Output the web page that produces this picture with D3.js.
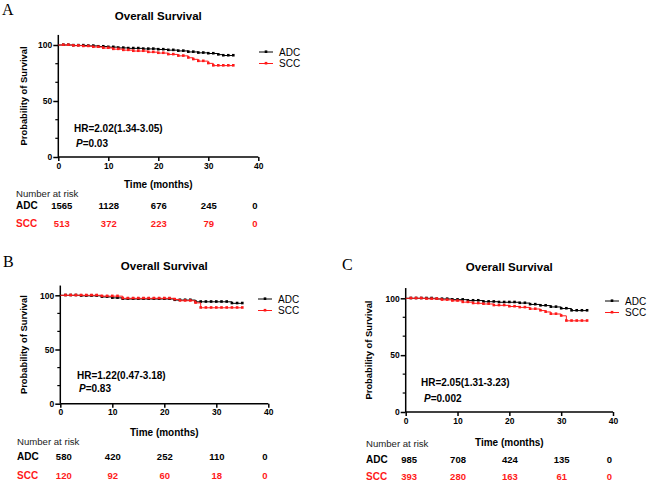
<!DOCTYPE html>
<html>
<head>
<meta charset="utf-8">
<script src="https://cdn.jsdelivr.net/npm/d3@7"></script>
<style>
  body { margin: 0; background: #fff; }
  svg { display: block; }
  text { font-family: Arial, "Liberation Sans", sans-serif; }
</style>
</head>
<body>
<svg id="canvas" width="648" height="480"></svg>
<script>
// ---- data ----
var groups = ["ADC", "SCC"];
var xTicks = [0, 10, 20, 30, 40];
var yTicks = [0, 50, 100];
var yMinorTicks = [16.7, 33.3, 66.7, 83.3];
var riskTimes = [0, 10, 20, 30, 40];
var censorTimes = [1, 2, 3, 4, 5, 6, 7, 8, 9, 10, 11, 12, 13, 14, 15, 16, 17, 18,
  19, 20, 21, 22, 23, 24, 25, 26, 27, 28, 29, 30, 31, 32, 33, 34, 35];

// step curves: [months, % survival]
var adcA = [[0, 100], [3, 99.6], [6, 99.2], [8, 98.6], [10, 98.1], [12, 97.4], [14, 97], [17, 96.5],
  [20, 96], [22, 95.4], [24, 94.7], [26, 93.8], [28, 93], [30, 92.4], [32, 91.4], [33, 90.6], [35, 90.6]];
var sccA = [[0, 100], [3, 99.4], [5, 98.9], [7, 98.2], [9, 97.3], [11, 96.3], [13, 95.4], [15, 94.6],
  [18, 93.6], [20, 92.8], [22, 91.6], [24, 90.3], [26, 88.6], [27, 87.2], [28, 85.6], [30, 83.6], [31, 81.6], [35, 81.6]];
var adcB = [[0, 100], [4, 99.5], [8, 98.5], [10, 97.6], [12, 96.6], [22, 95.6], [26, 94], [33, 92.6], [35, 92.6]];
var sccB = [[0, 100], [8, 99.2], [12, 97.2], [22, 96.2], [23, 95], [26, 93], [27, 88.5], [35, 88.5]];
var adcC = [[0, 100], [6, 99.4], [9, 98.8], [12, 98], [15, 97], [18, 96.5], [22, 95.8], [24, 94.6],
  [26, 93.6], [28, 92.4], [30, 91], [32, 89.2], [35, 89.2]];
var sccC = [[0, 100], [4, 99.5], [7, 98.6], [9, 97.8], [11, 96.6], [13, 95.6], [15, 95], [17, 93.8],
  [20, 92.8], [22, 92], [24, 90.6], [26, 89.2], [27, 88], [28, 86.2], [30, 84.6], [31, 80.2], [35, 80.2]];

// number at risk
var riskAdcA = [1565, 1128, 676, 245, 0];
var riskSccA = [513, 372, 223, 79, 0];
var riskAdcB = [580, 420, 252, 110, 0];
var riskSccB = [120, 92, 60, 18, 0];
var riskAdcC = [985, 708, 424, 135, 0];
var riskSccC = [393, 280, 163, 61, 0];

var hrTexts = ["HR=2.02(1.34-3.05)", "HR=1.22(0.47-3.18)", "HR=2.05(1.31-3.23)"];
var pTexts = ["=0.03", "=0.83", "=0.002"];
var panelLetters = ["A", "B", "C"];

var colorAdc = "#000000";
var colorScc = "#ff1a1a";

// ---- layout (pixel placement of each panel) ----
var layout = [
  { x0: 58.3, x40: 258.3, y0: 157, y100: 45, letterX: 2, letterY: 14.5, titleY: 19.5, ylabX: 24,
    hrX: 74, hrY: 132, pX: 76, pY: 147, legX: 259, legY: 52, timeY: 31, narY: 40, adcY: 52, sccY: 70, rowX: 16 },
  { x0: 60.3, x40: 268.3, y0: 403.7, y100: 295.3, letterX: 3, letterY: 267, titleY: 270, ylabX: 24,
    hrX: 77, hrY: 379, pX: 79, pY: 392, legX: 258, legY: 299, timeY: 32, narY: 41, adcY: 56, sccY: 75, rowX: 17 },
  { x0: 405.7, x40: 613, y0: 412, y100: 298.3, letterX: 342, letterY: 269.5, titleY: 271, ylabX: 369,
    hrX: 421, hrY: 386, pX: 424, pY: 402, legX: 605, legY: 301, timeY: 33.5, narY: 35, adcY: 51, sccY: 67.5, rowX: 366 }
];

var curves = [[adcA, sccA], [adcB, sccB], [adcC, sccC]];
var risks = [[riskAdcA, riskSccA], [riskAdcB, riskSccB], [riskAdcC, riskSccC]];
var colors = [colorAdc, colorScc];

var svg = d3.select("svg#canvas");

function survAt(data, t) {
  var i = d3.bisector(function (d) { return d[0]; }).right(data, t) - 1;
  return data[Math.max(0, i)][1];
}

layout.forEach(function (L, p) {
  var x = d3.scaleLinear().domain([0, 40]).range([L.x0, L.x40]);
  var y = d3.scaleLinear().domain([0, 100]).range([L.y0, L.y100]);
  var g = svg.append("g");

  // panel letter
  g.append("text").attr("x", L.letterX).attr("y", L.letterY)
    .style("font-family", "'Liberation Serif', 'Times New Roman', serif")
    .style("font-size", "16px").text(panelLetters[p]);

  // title
  g.append("text").attr("x", (L.x0 + L.x40) / 2).attr("y", L.titleY)
    .attr("text-anchor", "middle").style("font-size", "11.5px").style("font-weight", "bold")
    .text("Overall Survival");

  // axes
  var xAxis = d3.axisBottom(x).tickValues(xTicks).tickSize(4).tickPadding(1.5);
  var gx = g.append("g").attr("transform", "translate(0," + L.y0 + ")").call(xAxis);
  gx.select(".domain").attr("d", "M" + L.x0 + ",0H" + L.x40);

  var yAxis = d3.axisLeft(y).tickValues(yTicks).tickSize(5).tickPadding(1);
  var gy = g.append("g").attr("transform", "translate(" + L.x0 + ",0)").call(yAxis);
  gy.select(".domain").attr("d", "M0," + y(109) + "V" + L.y0);
  gy.selectAll(".minor").data(yMinorTicks).enter().append("line")
    .attr("class", "minor").attr("x1", -3).attr("x2", 0)
    .attr("y1", function (d) { return y(d); }).attr("y2", function (d) { return y(d); })
    .attr("stroke", "#000").attr("stroke-width", 1.2);

  [gx, gy].forEach(function (a) {
    a.selectAll(".domain, .tick line").attr("stroke", "#000").attr("stroke-width", 1.5);
    a.selectAll(".tick text").attr("fill", "#000").style("font-size", "8.5px")
      .style("font-weight", "bold").style("font-family", "Arial, 'Liberation Sans', sans-serif");
  });

  // axis titles
  g.append("text").attr("transform", "translate(" + L.ylabX + "," + (y(109) + L.y0) / 2 + ") rotate(-90)")
    .attr("text-anchor", "middle").attr("dy", "0.35em")
    .style("font-size", "9.4px").style("font-weight", "bold").text("Probability of Survival");
  g.append("text").attr("x", (L.x0 + L.x40) / 2).attr("y", L.y0 + L.timeY)
    .attr("text-anchor", "middle").style("font-size", "10px").style("font-weight", "bold")
    .text("Time (months)");

  // KM curves
  var line = d3.line().curve(d3.curveStepAfter)
    .x(function (d) { return x(d[0]); }).y(function (d) { return y(d[1]); });
  curves[p].forEach(function (data, k) {
    g.append("path").datum(data).attr("d", line).attr("fill", "none")
      .attr("stroke", colors[k]).attr("stroke-width", 1);
    g.selectAll(".cens" + k).data(censorTimes).enter().append("rect")
      .attr("class", "cens" + k)
      .attr("x", function (t) { return x(t) - 1.3; })
      .attr("y", function (t) { return y(survAt(data, t)) - 1.6; })
      .attr("width", 2.6).attr("height", 2.6).attr("fill", colors[k]);
  });

  // HR / P annotations
  g.append("text").attr("x", L.hrX).attr("y", L.hrY).style("font-size", "10px")
    .style("font-weight", "bold").text(hrTexts[p]);
  var pt = g.append("text").attr("x", L.pX).attr("y", L.pY).style("font-size", "10px").style("font-weight", "bold");
  pt.append("tspan").style("font-style", "italic").text("P");
  pt.append("tspan").text(pTexts[p]);

  // legend
  groups.forEach(function (name, k) {
    var ly = L.legY + k * 11.5;
    g.append("line").attr("x1", L.legX).attr("x2", L.legX + 14).attr("y1", ly).attr("y2", ly)
      .attr("stroke", colors[k]).attr("stroke-width", 1);
    g.append("rect").attr("x", L.legX + 5.7).attr("y", ly - 1.6).attr("width", 2.6).attr("height", 2.6)
      .attr("fill", colors[k]);
    g.append("text").attr("x", L.legX + 20).attr("y", ly).attr("dy", "0.35em")
      .style("font-size", "10px").text(name);
  });

  // number at risk table
  g.append("text").attr("x", L.rowX).attr("y", L.y0 + L.narY).style("font-size", "9.6px")
    .attr("fill", "#222").text("Number at risk");
  groups.forEach(function (name, k) {
    var ry = L.y0 + (k === 0 ? L.adcY : L.sccY);
    g.append("text").attr("x", L.rowX).attr("y", ry).style("font-size", "10px")
      .style("font-weight", "bold").attr("fill", k === 0 ? "#000" : colorScc).text(name);
    g.selectAll(".risk" + k).data(risks[p][k]).enter().append("text")
      .attr("class", "risk" + k)
      .attr("x", function (d, i) {
        var t = riskTimes[i];
        return x(t) + (i === 0 ? 3.5 : (i === riskTimes.length - 1 ? -3.5 : 0.5));
      })
      .attr("y", ry).attr("text-anchor", "middle")
      .style("font-size", "9.5px").style("font-weight", "bold")
      .attr("fill", k === 0 ? "#000" : colorScc).text(function (d) { return d; });
  });
});
</script>
</body>
</html>
